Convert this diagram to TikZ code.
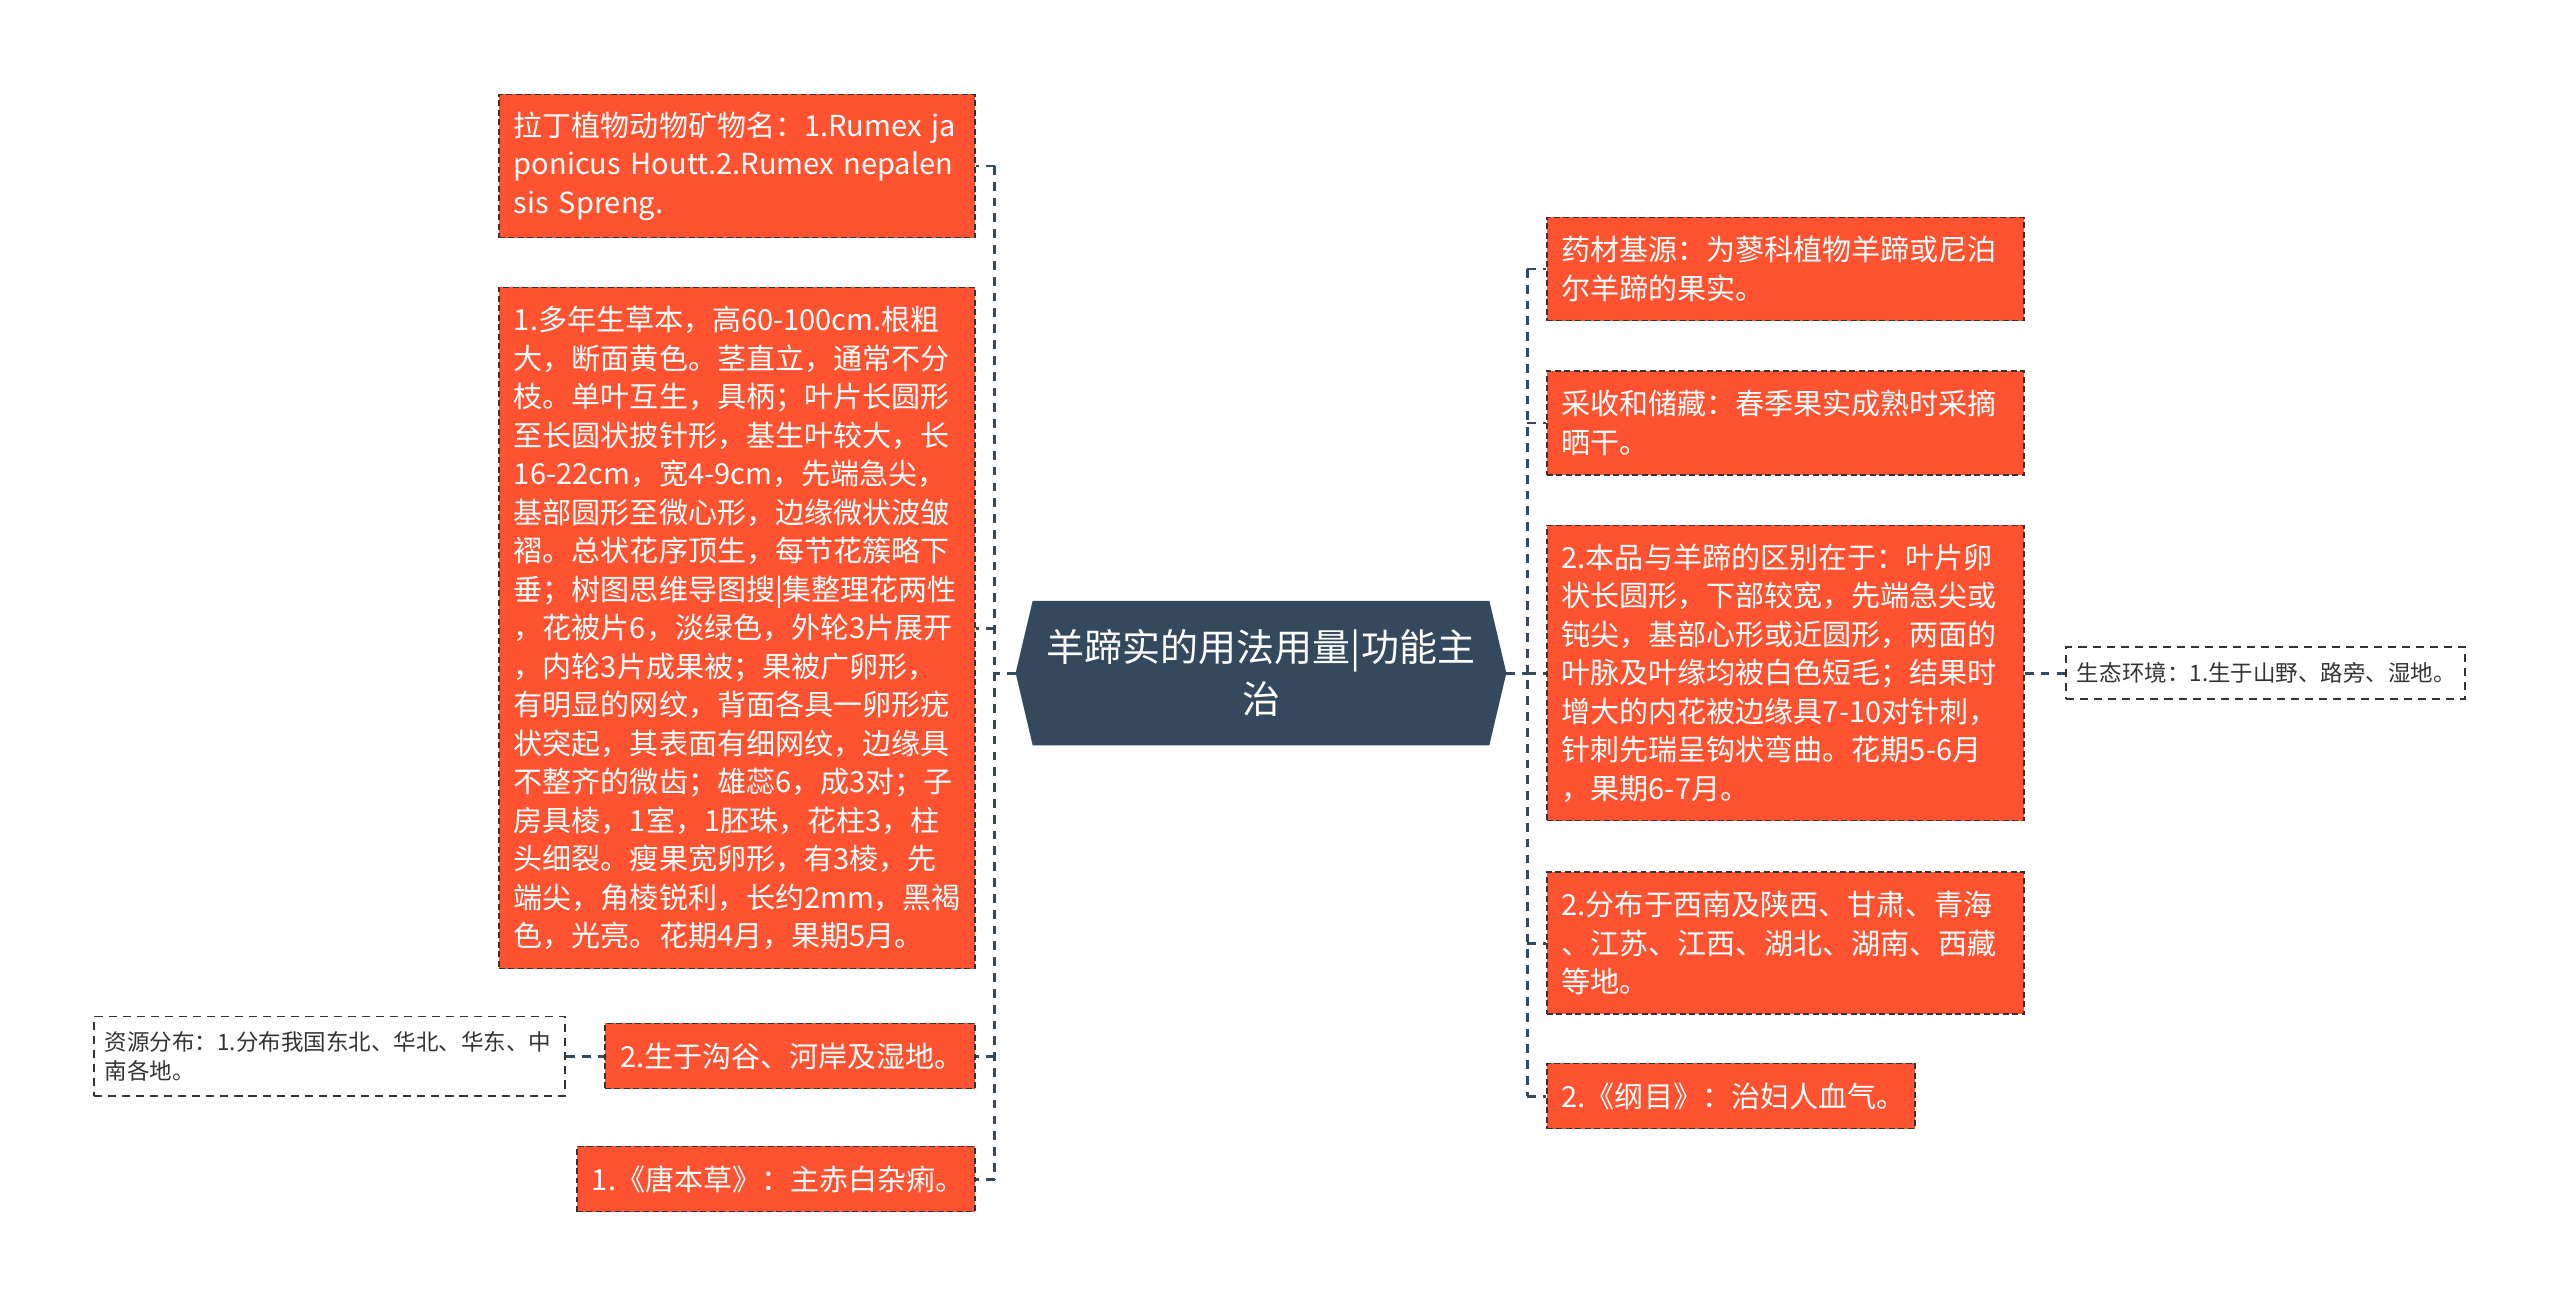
\documentclass[tikz,border=0pt]{standalone}
\usepackage{fontspec}
\setmainfont{Noto Sans CJK SC}
\usetikzlibrary{backgrounds}
\definecolor{leaf}{HTML}{FF5230}
\definecolor{slate}{HTML}{34495E}
\definecolor{ink}{HTML}{333333}
\def\leaffont{\fontsize{8.25pt}{10.95pt}\selectfont}
\def\notefont{\fontsize{6.4pt}{8.25pt}\selectfont}
\def\rootfont{\fontsize{10.8pt}{14.8pt}\selectfont}
\def\leaf{\node[leafbox]}
\def\note{\node[notebox]}
\tikzset{
  leafbox/.style={fill=leaf, draw=ink, line width=0.45pt, dash pattern=on 1.7pt off 1pt,
    text=white, font=\leaffont, align=left, inner xsep=0.15cm, inner ysep=0pt},
  notebox/.style={draw=ink, line width=0.55pt, dash pattern=on 2.3pt off 1.7pt,
    text=ink, font=\notefont, align=left, inner xsep=0.11cm, inner ysep=0pt},
  link/.style={draw=slate, line width=0.85pt, dash pattern=on 2.5pt off 2pt},
}

\begin{document}
\begin{tikzpicture}[x=0.01cm, y=-0.01cm]
                \useasboundingbox (0,0) rectangle (2560,1309);
                \node[text=white, font=\rootfont, align=center, inner sep=0pt,
                      minimum width=4.89cm, minimum height=1.43cm] (root) at (1261,673)
                      {羊蹄实的用法用量|功能主\\治};
                \begin{scope}[on background layer]
                \fill[slate] ([xshift=0.17cm]root.north west) -- ([xshift=-0.17cm]root.north east)
                      -- (root.east) -- ([xshift=-0.17cm]root.south east)
                      -- ([xshift=0.17cm]root.south west) -- (root.west) -- cycle;
                \end{scope}
                \leaf[text width=4.46cm, minimum height=1.43cm, anchor=east] (latin) at (976,166)
                      {拉丁植物动物矿物名：1.Rumex ja\\ponicus Houtt.2.Rumex nepalen\\sis Spreng.};
                \leaf[text width=4.46cm, minimum height=6.81cm, anchor=east] (desc) at (976,628)
                      {1.多年生草本，高60-100cm.根粗\\大，断面黄色。茎直立，通常不分\\枝。单叶互生，具柄；叶片长圆形\\至长圆状披针形，基生叶较大，长\\16-22cm，宽4-9cm，先端急尖，\\基部圆形至微心形，边缘微状波皱\\褶。总状花序顶生，每节花簇略下\\垂；树图思维导图搜|集整理花两性\\，花被片6，淡绿色，外轮3片展开\\，内轮3片成果被；果被广卵形，\\有明显的网纹，背面各具一卵形疣\\状突起，其表面有细网纹，边缘具\\不整齐的微齿；雄蕊6，成3对；子\\房具棱，1室，1胚珠，花柱3，柱\\头细裂。瘦果宽卵形，有3棱，先\\端尖，角棱锐利，长约2mm，黑褐\\色，光亮。花期4月，果期5月。};
                \leaf[text width=3.40cm, minimum height=0.65cm, anchor=east] (gou) at (976,1056)
                      {2.生于沟谷、河岸及湿地。};
                \leaf[text width=3.68cm, minimum height=0.65cm, anchor=east] (tang) at (976,1179)
                      {1.《唐本草》：主赤白杂痢。};
                \note[text width=4.49cm, minimum height=0.79cm, anchor=east] (zi) at (566,1056)
                      {资源分布：1.分布我国东北、华北、华东、中\\南各地。};
                \leaf[text width=4.47cm, minimum height=1.03cm, anchor=west] (jiyuan) at (1546,269)
                      {药材基源：为蓼科植物羊蹄或尼泊\\尔羊蹄的果实。};
                \leaf[text width=4.47cm, minimum height=1.04cm, anchor=west] (caishou) at (1546,423)
                      {采收和储藏：春季果实成熟时采摘\\晒干。};
                \leaf[text width=4.47cm, minimum height=2.95cm, anchor=west] (qubie) at (1546,673)
                      {2.本品与羊蹄的区别在于：叶片卵\\状长圆形，下部较宽，先端急尖或\\钝尖，基部心形或近圆形，两面的\\叶脉及叶缘均被白色短毛；结果时\\增大的内花被边缘具7-10对针刺，\\针刺先瑞呈钩状弯曲。花期5-6月\\，果期6-7月。};
                \leaf[text width=4.47cm, minimum height=1.42cm, anchor=west] (fenbu) at (1546,943)
                      {2.分布于西南及陕西、甘肃、青海\\、江苏、江西、湖北、湖南、西藏\\等地。};
                \leaf[text width=3.38cm, minimum height=0.65cm, anchor=west] (gangmu) at (1546,1096)
                      {2.《纲目》：治妇人血气。};
                \note[text width=3.77cm, minimum height=0.52cm, anchor=west] (shengtai) at (2065,673)
                      {生态环境：1.生于山野、路旁、湿地。};
                \coordinate (lhub) at ([xshift=-0.21cm]root.west);
                \coordinate (rhub) at ([xshift=0.21cm]root.east);
                \draw[link] (root.west) -- (lhub);
                \draw[link] (root.east) -- (rhub);
                \draw[link] (lhub |- latin.east) -- (lhub |- tang.east);
                \draw[link] (rhub |- jiyuan.west) -- (rhub |- gangmu.west);
                \foreach \n in {latin,desc,gou,tang}
                    \draw[link] (lhub |- \n.east) -- (\n.east);
                \foreach \n in {jiyuan,caishou,qubie,fenbu,gangmu}
                    \draw[link] (rhub |- \n.west) -- (\n.west);
                \draw[link] (zi.east) -- (gou.west);
                \draw[link] (qubie.east) -- (shengtai.west);
            \end{tikzpicture}
\end{document}
